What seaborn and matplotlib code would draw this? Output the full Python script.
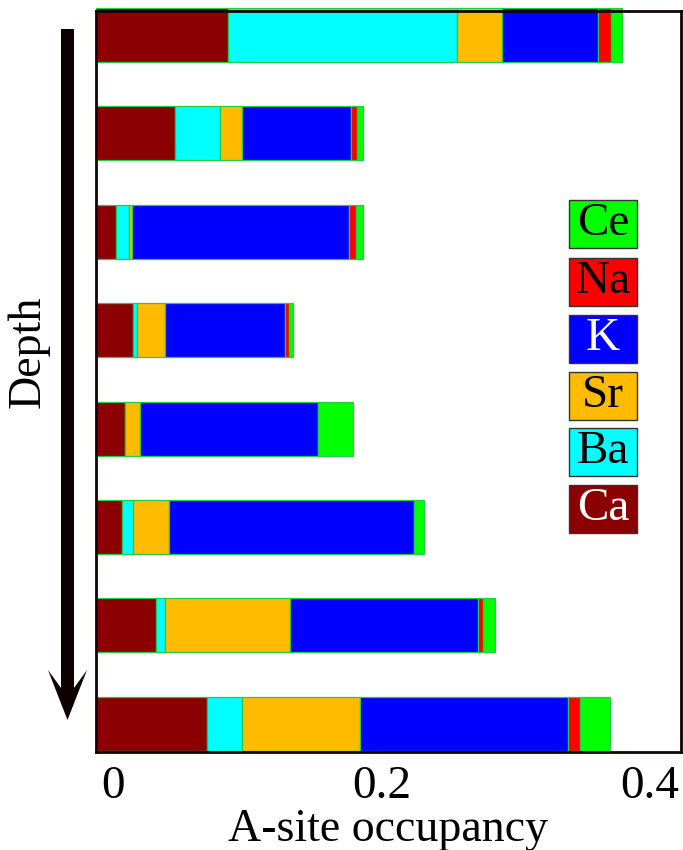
import matplotlib
matplotlib.use("Agg")
import matplotlib.pyplot as plt
from matplotlib.patches import Rectangle, Polygon
import numpy as np
import seaborn as sns

sns.set_style("white")
plt.rcParams["font.family"] = ["Liberation Serif", "DejaVu Serif"]
plt.rcParams["text.color"] = "black"
plt.rcParams["axes.labelcolor"] = "black"
plt.rcParams["xtick.color"] = "black"

# A-site occupancy per element, one entry per sample (top = shallowest)
elements = ["Ca", "Ba", "Sr", "K", "Na", "Ce"]
ca = [0.099, 0.059, 0.015, 0.028, 0.022, 0.020, 0.045, 0.083]
ba = [0.170, 0.034, 0.010, 0.003, 0.000, 0.008, 0.007, 0.026]
sr = [0.034, 0.016, 0.002, 0.021, 0.011, 0.027, 0.093, 0.088]
k = [0.071, 0.081, 0.162, 0.089, 0.133, 0.182, 0.140, 0.155]
na = [0.010, 0.005, 0.005, 0.003, 0.000, 0.000, 0.004, 0.009]
ce = [0.008, 0.004, 0.005, 0.003, 0.026, 0.008, 0.009, 0.022]

colors = {"Ca": "#8b0000", "Ba": "#00ffff", "Sr": "#ffbb00",
          "K": "#0000ff", "Na": "#ff0000", "Ce": "#00ff00"}
text_colors = {"Ca": "white", "Ba": "black", "Sr": "black",
               "K": "white", "Na": "black", "Ce": "black"}

xticks = [0, 0.2, 0.4]
xtick_labels = ["0", "0.2", "0.4"]

W, H = 683, 850
fig = plt.figure(figsize=(W / 100, H / 100), dpi=100)
ax_l, ax_r, ax_t, ax_b = 95.5, 681, 10.5, 752
ax = fig.add_axes([ax_l / W, 1 - ax_b / H, (ax_r - ax_l) / W, (ax_b - ax_t) / H])

x_min, x_max = -0.013, 0.4232
ax.set_xlim(x_min, x_max)
ax.set_ylim(7.287, -0.249)

series = {"Ca": ca, "Ba": ba, "Sr": sr, "K": k, "Na": na, "Ce": ce}
ypos = np.arange(len(ca))
left = np.full(len(ca), x_min)
for name in elements:
    vals = np.asarray(series[name])
    ax.barh(ypos, vals, left=left, height=0.55, color=colors[name],
            edgecolor="#22cc44", linewidth=0.9, clip_on=False, zorder=2)
    left = left + vals

for s in ax.spines.values():
    s.set_color("#120404")
    s.set_linewidth(2.0)
    s.set_zorder(3)

ax.set_yticks([])
ax.set_xticks(xticks)
ax.set_xticklabels(xtick_labels, fontsize=34)
ax.tick_params(axis="x", length=0, pad=10)
ax.set_xlabel("A-site occupancy", fontsize=33, labelpad=0)


def fx(px):
    return px / W


def fy(py):
    return 1 - py / H


# Depth arrow pointing down the stack
arrow_pts = [(61, 29), (74, 29), (74, 688), (87, 670), (67.5, 720),
             (48, 670), (61, 688)]
fig.patches.append(Polygon([(fx(x), fy(y)) for x, y in arrow_pts],
                           closed=True, transform=fig.transFigure,
                           facecolor="#0d0000", edgecolor="none"))
fig.text(fx(28), fy(352), "Depth", rotation=90, fontsize=33,
         ha="center", va="center")

# Element key boxes
box_x0, box_x1 = 569, 637
box_tops = [200, 258, 315, 372, 428, 485]
box_h = 48
for name, top in zip(elements[::-1], box_tops):
    fig.patches.append(Rectangle((fx(box_x0), fy(top + box_h)),
                                 (box_x1 - box_x0) / W, box_h / H,
                                 transform=fig.transFigure,
                                 facecolor=colors[name], edgecolor="#333333",
                                 linewidth=1.0))
    fig.text(fx((box_x0 + box_x1) / 2), fy(top + box_h / 2), name,
             fontsize=34, color=text_colors[name], ha="center", va="center")

fig.savefig("out.png", dpi=100)
